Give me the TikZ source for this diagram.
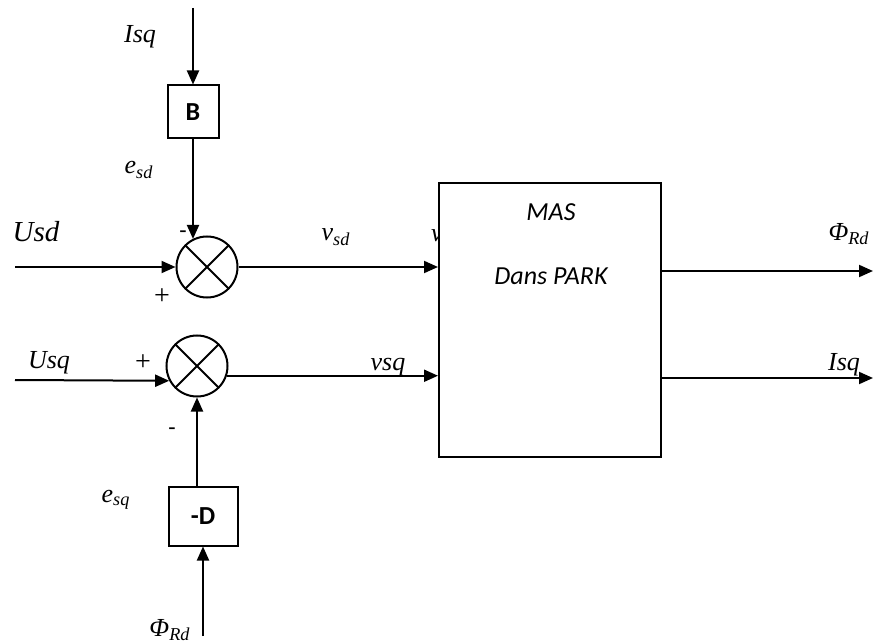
\documentclass[tikz,border=0pt]{standalone}
\usepackage{fontspec}
\setmainfont{Liberation Serif}
\newfontfamily\calibri{Carlito}
\usetikzlibrary{arrows.meta}

\begin{document}
\begin{tikzpicture}[x=0.5pt, y=-0.5pt, line width=1pt,
  arr/.style={-{Triangle[length=7pt,width=6pt]}},
  blockbox/.style={draw, rectangle, inner sep=0pt, font=\calibri\bfseries\fontsize{13}{15}\selectfont},
  sumnode/.style={draw, circle, minimum size=30.5pt, inner sep=0pt, path picture={
      \draw (path picture bounding box.north west) -- (path picture bounding box.south east)
            (path picture bounding box.north east) -- (path picture bounding box.south west);}},
  sig/.style={font=\fontsize{13}{15}\selectfont\itshape, inner sep=0pt},
  sgn/.style={font=\fontsize{14}{16}\selectfont, inner sep=0pt}]
  \useasboundingbox (0,0) rectangle (874,642);

  % blocks
  \node[blockbox, minimum width=25.5pt, minimum height=26.5pt] (B) at (193,112) {B};
  \node[blockbox, minimum width=34.5pt, minimum height=29.5pt] (D) at (203,516) {-D};
  \node[sumnode] (s1) at (207,267) {};
  \node[sumnode] (s2) at (197,366) {};
  \node[sig] (vcut) at (437,236) {v};
  \node[draw, fill=white, minimum width=111pt, minimum height=137pt, inner sep=0pt] (mas) at (550,320) {};
  \node[font=\calibri\itshape\fontsize{13}{15}\selectfont] (mastxt) at (551,212) {MAS};
  \node[font=\calibri\itshape\fontsize{13}{15}\selectfont] (parktxt) at (551,276) {Dans PARK};

  % free ends
  \coordinate (isqin) at (193,8);
  \coordinate (usdin) at (15,267);
  \coordinate (usqin) at (15,380);
  \coordinate (phiin) at (203,636);
  \coordinate (phiout) at (873,271);
  \coordinate (isqout) at (873,378);

  % connectors
  \draw[arr] (isqin) -- (B.north);
  \draw[arr] (B.south) -- (B.south |- s1.117);
  \draw[arr] (usdin) -- (s1.west);
  \draw[arr] (s1.east) -- (mas.west |- s1.east);
  \draw[arr] (usqin) -- (s2.208);
  \draw[arr] (s2.-18) -- (mas.west |- s2.-18);
  \draw[arr] (D.north -| s2.south) -- (s2.south);
  \draw[arr] (phiin) -- (D.south);
  \draw[arr] (mas.east |- phiout) -- (phiout);
  \draw[arr] (mas.east |- isqout) -- (isqout);

  % labels
  \node[sig] (lisq) at (140,37) {Isq};
  \node[sig] (lesd) at (139,170) {e\textsubscript{sd}};
  \node[sig, font=\fontsize{14.5}{16}\selectfont\itshape] (lusd) at (36,232) {Usd};
  \node[sgn, font=\calibri\fontsize{12}{14}\selectfont] (m1) at (183,235) {-};
  \node[sgn] (p1) at (162,297) {+};
  \node[sig] (lvsd) at (336,237) {v\textsubscript{sd}};
  \node[sig] (lusq) at (49,363) {Usq};
  \node[sgn] (p2) at (143,363) {+};
  \node[sig] (lvsq) at (388,367) {vsq};
  \node[sgn, font=\calibri\fontsize{12}{14}\selectfont] (m2) at (172,432) {-};
  \node[sig] (lesq) at (116,500) {e\textsubscript{sq}};
  \node[sig] (lphiin) at (170,630) {Φ\textsubscript{Rd}};
  \node[sig] (lphiout) at (849,234) {Φ\textsubscript{Rd}};
  \node[sig] (lisqout) at (844,365) {Isq};
\end{tikzpicture}
\end{document}
